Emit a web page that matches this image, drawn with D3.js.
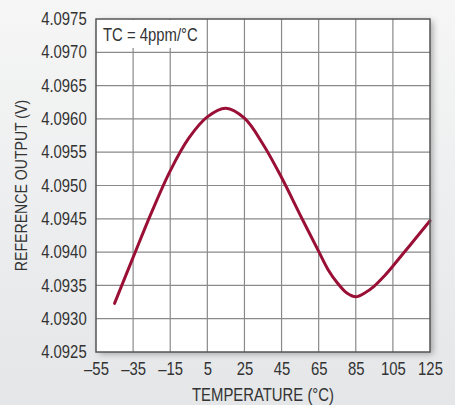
<!DOCTYPE html>
<html>
<head>
<meta charset="utf-8">
<script src="https://cdn.jsdelivr.net/npm/d3@7"></script>
<style>
    html, body { margin: 0; padding: 0; }
    body { width: 455px; height: 405px; overflow: hidden; }
    text { font-family: "Liberation Sans", Arial, sans-serif; fill: #333; }
</style>
</head>
<body>
<svg id="chart" width="455" height="405"></svg>
<script>
//Chart data
var temps  = [-45, -35, -25, -15, -5, 5, 15, 25, 35, 45, 55, 65, 70, 75, 80, 85, 90, 95, 100, 105, 115, 125];
var vout   = [4.09323, 4.09392, 4.09460, 4.09522, 4.09571, 4.09603, 4.09616, 4.09601, 4.09562,
              4.09512, 4.09456, 4.09401, 4.09374, 4.09354, 4.09339, 4.09333, 4.09339, 4.09349,
              4.09363, 4.09379, 4.09413, 4.09447];
var xTicks = [-55, -35, -15, 5, 25, 45, 65, 85, 105, 125];
var yTicks = [4.0925, 4.0930, 4.0935, 4.0940, 4.0945, 4.0950, 4.0955, 4.0960, 4.0965, 4.0970, 4.0975];
var note   = "TC = 4ppm/°C";

var FS = 17.5, SX = 0.85;   //font size, horizontal squeeze (condensed look)
var svg = d3.select('#chart');
var m   = {left: 96, top: 19, right: 430, bottom: 352};

//Background gradient + plot shadow
var defs = svg.append('defs');
var g1 = defs.append('linearGradient').attr('id', 'bg').attr('x1', 0).attr('y1', 0).attr('x2', 0).attr('y2', 1);
g1.append('stop').attr('offset', '0%').attr('stop-color', '#f6f6f6');
g1.append('stop').attr('offset', '100%').attr('stop-color', '#e4e6e8');
var sh = defs.append('filter').attr('id', 'shadow').attr('x', '-5%').attr('y', '-5%').attr('width', '115%').attr('height', '115%');
sh.append('feDropShadow').attr('dx', 3).attr('dy', 2).attr('stdDeviation', 3).attr('flood-color', '#000').attr('flood-opacity', 0.3);

svg.append('rect').attr('width', 455).attr('height', 405).attr('fill', 'url(#bg)');

var x = d3.scaleLinear().domain([-55, 125]).range([m.left, m.right]);
var y = d3.scaleLinear().domain([4.0925, 4.0975]).range([m.bottom, m.top]);

//Plot area
svg.append('rect')
    .attr('x', m.left).attr('y', m.top)
    .attr('width', m.right - m.left).attr('height', m.bottom - m.top)
    .attr('fill', '#fff').attr('filter', 'url(#shadow)');

//Grid
svg.append('g').selectAll('line').data(xTicks.slice(1, -1)).join('line')
    .attr('x1', function(d){ return x(d); }).attr('x2', function(d){ return x(d); })
    .attr('y1', m.top).attr('y2', m.bottom)
    .attr('stroke', '#8a8a8a').attr('stroke-width', 1.2);
svg.append('g').selectAll('line').data(yTicks.slice(1, -1)).join('line')
    .attr('x1', m.left).attr('x2', m.right)
    .attr('y1', function(d){ return y(d); }).attr('y2', function(d){ return y(d); })
    .attr('stroke', '#8a8a8a').attr('stroke-width', 1.2);

//Note box covers grid
svg.append('rect').attr('x', m.left + 1).attr('y', m.top + 1).attr('width', 106).attr('height', 28).attr('fill', '#fff');
svg.append('text').attr('transform', 'translate(103,41) scale(' + SX + ',1)')
    .attr('font-size', FS).text(note);

//Curve
var line = d3.line()
    .x(function(d, i){ return x(temps[i]); })
    .y(function(d){ return y(d); })
    .curve(d3.curveCatmullRom.alpha(0.5));
svg.append('path').datum(vout)
    .attr('d', line)
    .attr('fill', 'none').attr('stroke', '#9a0f35').attr('stroke-width', 3)
    .attr('stroke-linecap', 'round');

//Border
svg.append('rect')
    .attr('x', m.left).attr('y', m.top)
    .attr('width', m.right - m.left).attr('height', m.bottom - m.top)
    .attr('fill', 'none').attr('stroke', '#555').attr('stroke-width', 1.5);

//Axes (labels only)
var xAxis = d3.axisBottom(x).tickValues(xTicks).tickSize(0).tickPadding(11)
    .tickFormat(function(d){ return d < 0 ? '\u2013' + Math.abs(d) : d; });
var ax = svg.append('g').attr('transform', 'translate(0,' + m.bottom + ')').call(xAxis);
ax.select('.domain').remove();
ax.selectAll('text').attr('font-size', FS).attr('fill', '#333')
    .attr('font-family', '"Liberation Sans", Arial, sans-serif')
    .attr('transform', 'scale(' + SX + ',1)');

var yAxis = d3.axisLeft(y).tickValues(yTicks).tickSize(0).tickPadding(11)
    .tickFormat(d3.format('.4f'));
var ay = svg.append('g').attr('transform', 'translate(' + m.left + ',0)').call(yAxis);
ay.select('.domain').remove();
ay.selectAll('text').attr('font-size', FS).attr('fill', '#333')
    .attr('font-family', '"Liberation Sans", Arial, sans-serif')
    .attr('transform', 'scale(' + SX + ',1)');

//Axis titles
svg.append('text').attr('transform', 'translate(263,401) scale(' + SX + ',1)')
    .attr('text-anchor', 'middle').attr('font-size', FS).text('TEMPERATURE (°C)');
svg.append('text').attr('transform', 'translate(27,' + ((m.top + m.bottom) / 2) + ') rotate(-90) scale(0.83,1)')
    .attr('text-anchor', 'middle').attr('font-size', 17).text('REFERENCE OUTPUT (V)');
</script>
</body>
</html>
